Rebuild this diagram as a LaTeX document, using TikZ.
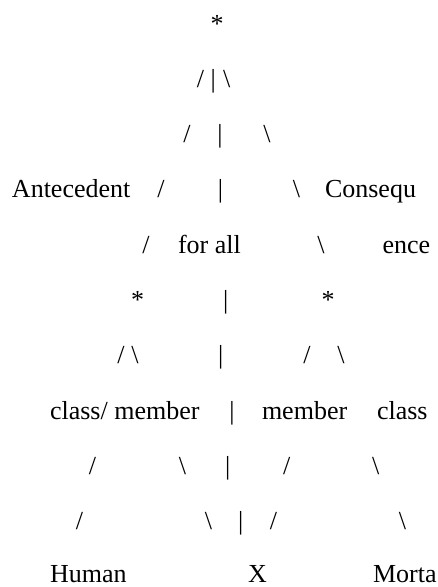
\documentclass[tikz,border=0pt]{standalone}
\usepackage{fontspec}
\setmainfont{Liberation Serif}
\begin{document}
\tikzset{
  glyph/.style={inner sep=0pt, outer sep=0pt, anchor=base, font=\fontsize{26}{31}\selectfont, text=black},
  word/.style={glyph, anchor=base west}
}
\begin{tikzpicture}[x=1pt,y=-1pt]
\useasboundingbox (0,0) rectangle (437,587);
% row 1
\node[glyph] (r1s) at (217,32) {*};
% row 2
\node[glyph] (r2a) at (200.5,87.3) {/};
\node[glyph] (r2b) at (213.3,87.3) {\textbar};
\node[glyph] (r2c) at (226.7,87.3) {\textbackslash};
% row 3
\node[glyph] (r3a) at (187,142.6) {/};
\node[glyph] (r3b) at (220,142.6) {\textbar};
\node[glyph] (r3c) at (267,142.6) {\textbackslash};
% row 4
\node[word] (ante) at (12,197.9) {Antecedent};
\node[glyph] (r4a) at (161,197.9) {/};
\node[glyph] (r4b) at (220.5,197.9) {\textbar};
\node[glyph] (r4c) at (296.5,197.9) {\textbackslash};
\node[word] (cons) at (325,197.9) {Consequ};
% row 5
\node[glyph] (r5a) at (146,253.2) {/};
\node[word] (forall) at (178,253.2) {for all};
\node[glyph] (r5c) at (321,253.2) {\textbackslash};
\node[word] (ence) at (382.5,253.2) {ence};
% row 6
\node[glyph] (r6a) at (137.5,308.5) {*};
\node[glyph] (r6b) at (225.7,308.5) {\textbar};
\node[glyph] (r6c) at (328,308.5) {*};
% row 7
\node[glyph] (r7a) at (121,363.8) {/};
\node[glyph] (r7b) at (135,363.8) {\textbackslash};
\node[glyph] (r7c) at (220.7,363.8) {\textbar};
\node[glyph] (r7d) at (307,363.8) {/};
\node[glyph] (r7e) at (341,363.8) {\textbackslash};
% row 8
\node[word] (clm) at (50,419.1) {class/ member};
\node[glyph] (r8b) at (232,419.1) {\textbar};
\node[word] (mem) at (262,419.1) {member};
\node[word] (cls) at (377,419.1) {class};
% row 9
\node[glyph] (r9a) at (92.5,474.4) {/};
\node[glyph] (r9b) at (182.5,474.4) {\textbackslash};
\node[glyph] (r9c) at (227.7,474.4) {\textbar};
\node[glyph] (r9d) at (286.7,474.4) {/};
\node[glyph] (r9e) at (375.7,474.4) {\textbackslash};
% row 10
\node[glyph] (r10a) at (79.5,529.7) {/};
\node[glyph] (r10b) at (208.5,529.7) {\textbackslash};
\node[glyph] (r10c) at (240.7,529.7) {\textbar};
\node[glyph] (r10d) at (273.5,529.7) {/};
\node[glyph] (r10e) at (402.5,529.7) {\textbackslash};
% row 11
\node[word] (human) at (50,582) {Human};
\node[word] (xx) at (248,582) {X};
\node[word] (morta) at (373,582) {Morta};
\end{tikzpicture}
\end{document}
